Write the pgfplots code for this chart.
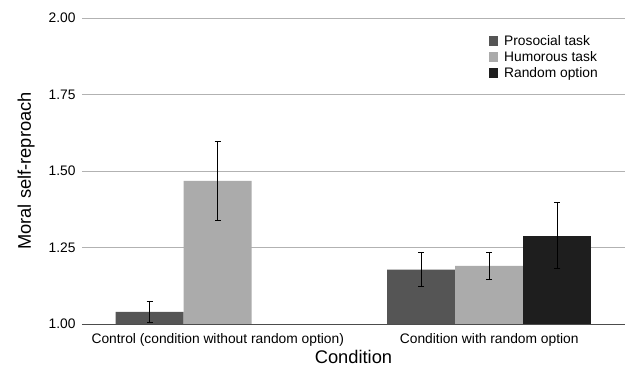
\documentclass[border=0pt]{standalone}
\usepackage{pgfplots}
\pgfplotsset{compat=1.18}
\usepackage{fontspec}
\setmainfont{Liberation Sans}
\definecolor{prosocial}{HTML}{555555}
\definecolor{humorous}{HTML}{ABABAB}
\definecolor{randomopt}{HTML}{1E1E1E}
\begin{document}
\begin{tikzpicture}
\begin{axis}[
  at={(0pt,0pt)}, anchor=south west,
  scale only axis, width=543pt, height=306pt,
  ybar=0pt, bar width=68pt,
  xmin=-0.5, xmax=1.5, ymin=1, ymax=2,
  ytick={1,1.25,1.5,1.75,2},
  yticklabel style={/pgf/number format/fixed, /pgf/number format/fixed zerofill, /pgf/number format/precision=2, xshift=-3pt},
  /pgf/number format/assume math mode=true,
  xtick={0,1},
  xticklabels={Control (condition without random option), Condition with random option},
  axis x line*=bottom, axis y line*=left,
  x axis line style={draw=black!70, line width=0.8pt, -},
  y axis line style={draw=none},
  major tick length=0pt,
  ymajorgrids, grid style={draw=black!30, line width=0.8pt},
  tick label style={font=\fontsize{13.8}{16}\selectfont},
  xticklabel style={yshift=-6pt},
  xlabel={Condition}, ylabel={Moral self-reproach},
  label style={font=\fontsize{18.3}{21}\selectfont},
  xlabel style={yshift=1pt, inner ysep=1pt},
  ylabel style={yshift=7pt},
  legend style={draw=none, fill=none, at={(0.743,0.958)}, anchor=north west,
    font=\fontsize{13.8}{16}\selectfont, row sep=0pt,
    nodes={anchor=west, inner ysep=2.3pt},
    /tikz/every even column/.append style={column sep=3pt}},
  legend cell align=left,
  legend image code/.code={\fill[#1] (0pt,-4.5pt) rectangle (9.5pt,5pt);},
  /tikz/every odd column/.append style={column sep=4pt},
  error bars/y dir=both, error bars/y explicit,
  error bars/error bar style={black, line width=0.7pt},
  error bars/error mark options={rotate=90, mark size=3pt, black, line width=0.7pt},
]
\addplot[fill=prosocial, draw=none] coordinates {(0,1.04) +- (0,0.033) (1,1.178) +- (0,0.055)};
\addplot[fill=humorous, draw=none] coordinates {(0,1.468) +- (0,0.13) (1,1.19) +- (0,0.044)};
\addplot[fill=randomopt, draw=none] coordinates {(1,1.289) +- (0,0.108)};
\legend{Prosocial task, Humorous task, Random option}
\end{axis}
\pgfresetboundingbox
\useasboundingbox (-82pt,-45pt) rectangle (543pt,324pt);
\end{tikzpicture}
\end{document}
